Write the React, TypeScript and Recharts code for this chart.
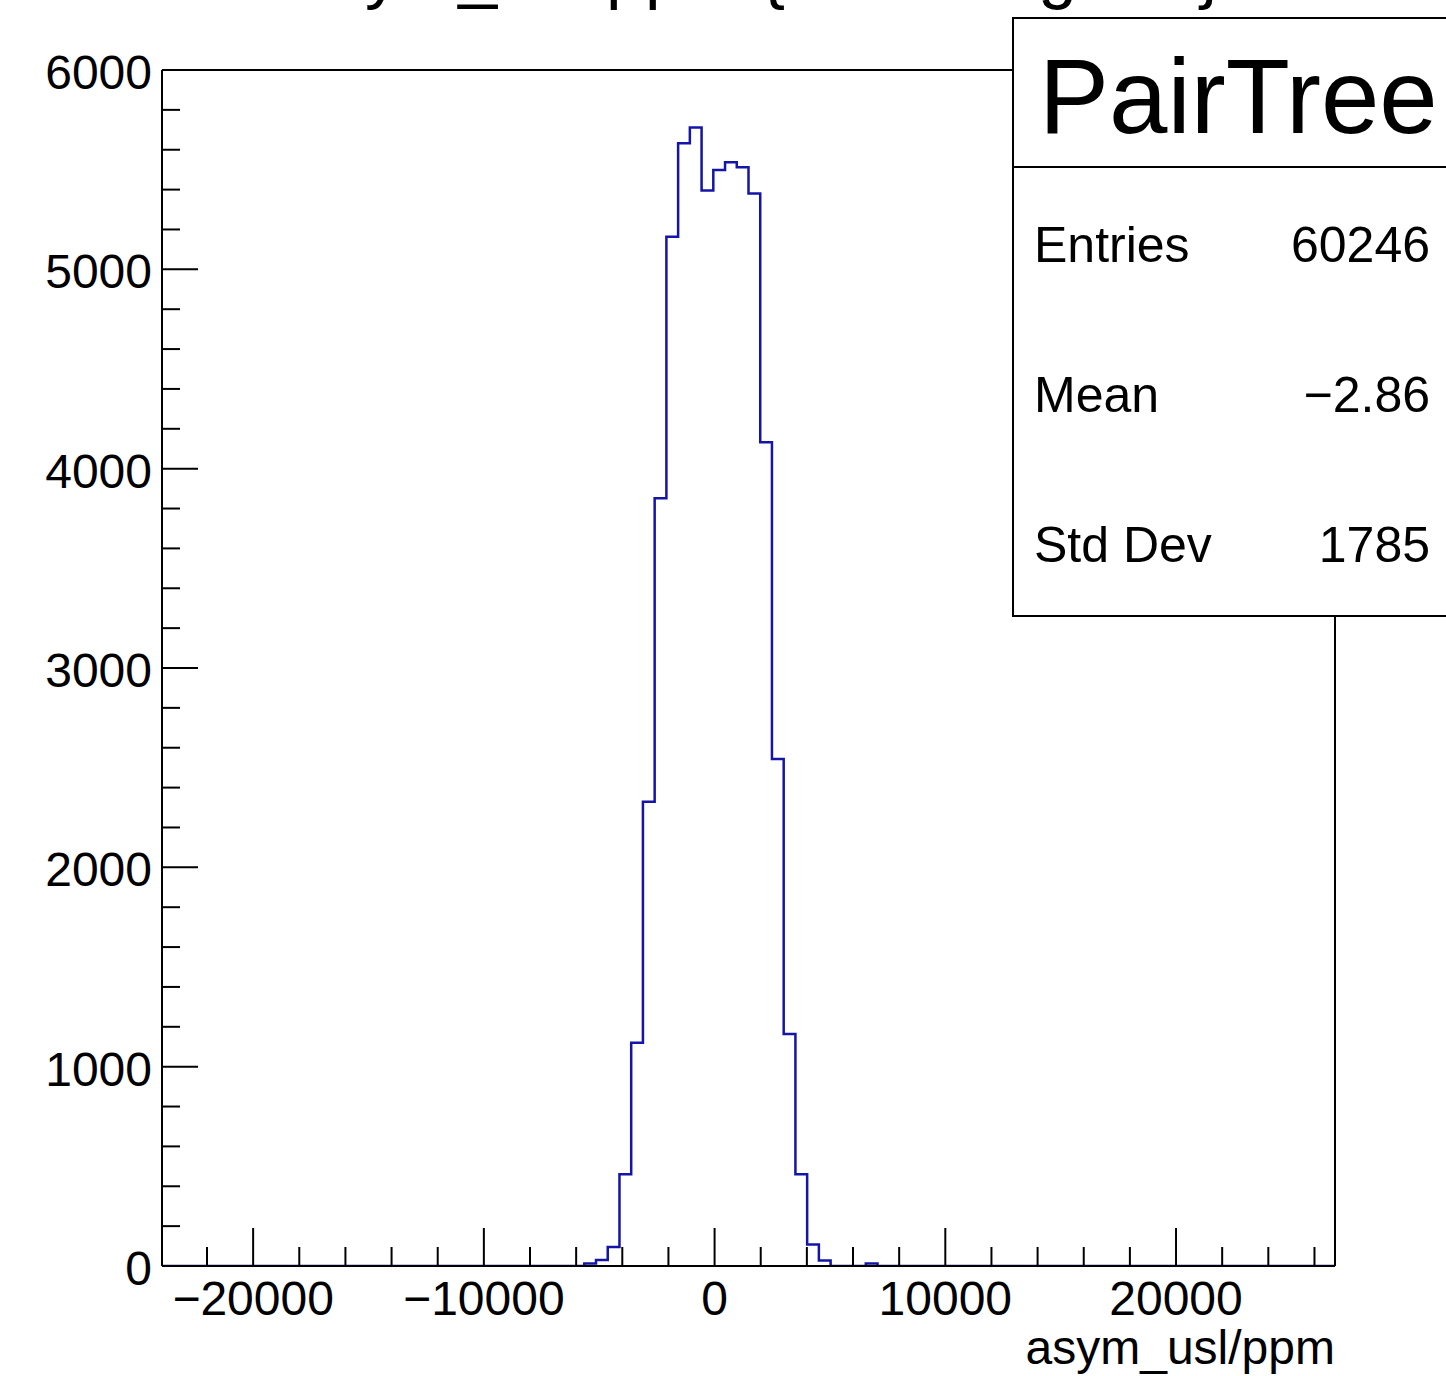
import React from 'react';
import { ComposedChart, Line, XAxis, YAxis, ReferenceLine } from 'recharts';

const W = 1446;
const H = 1376;

// histogram binning (read from the frame: 100 bins)
const X_MIN = -23950;
const X_MAX = 26890;
const N_BINS = 100;
const Y_MAX = 6000;

// counts of the filled bins, starting at bin index FIRST_BIN
const FIRST_BIN = 36;
const binCounts = [
  12, 30, 95, 460, 1120, 2329, 3851, 5164, 5632, 5712, 5395, 5498, 5537,
  5512, 5381, 4132, 2543, 1164, 460, 108, 28, 0, 0, 0, 12,
];

const xTicks = [
  -22000, -20000, -18000, -16000, -14000, -12000, -10000, -8000, -6000, -4000,
  -2000, 0, 2000, 4000, 6000, 8000, 10000, 12000, 14000, 16000, 18000, 20000,
  22000, 24000, 26000,
];
const yTicks = Array.from({ length: 31 }, (_, i) => i * 200);

const stats = [
  { label: 'Entries', value: '60246' },
  { label: 'Mean', value: '\u22122.86' },
  { label: 'Std Dev', value: '1785' },
];

const FONT = '"Liberation Sans", Arial, Helvetica, sans-serif';

const binWidth = (X_MAX - X_MIN) / N_BINS;
const counts = Array.from({ length: N_BINS }, (_, i) => {
  const j = i - FIRST_BIN;
  return j >= 0 && j < binCounts.length ? binCounts[j] : 0;
});
const histData = [
  ...counts.map((n, i) => ({ x: X_MIN + i * binWidth, n })),
  { x: X_MAX, n: 0 },
];

const fmt = (v: number) => (v < 0 ? '\u2212' + Math.abs(v) : String(v));

const XTick = (props: any) => {
  const { x, y, payload } = props;
  const v = payload.value;
  const major = v % 10000 === 0;
  return (
    <g>
      <line x1={x} x2={x} y1={y} y2={y - (major ? 38 : 19)} stroke="#000" strokeWidth={2} />
      {major && (
        <text x={x} y={y + 49} textAnchor="middle" fontSize={48} fontFamily={FONT} fill="#000">
          {fmt(v)}
        </text>
      )}
    </g>
  );
};

const YTick = (props: any) => {
  const { x, y, payload } = props;
  const v = payload.value;
  const major = v % 1000 === 0;
  return (
    <g>
      <line x1={x} x2={x + (major ? 36 : 18)} y1={y} y2={y} stroke="#000" strokeWidth={2} />
      {major && (
        <text x={x - 10} y={y + 19} textAnchor="end" fontSize={48} fontFamily={FONT} fill="#000">
          {v}
        </text>
      )}
    </g>
  );
};

export default function App() {
  return (
    <div style={{ position: 'absolute', left: 0, top: 0, width: W, height: H, background: '#fff', overflow: 'hidden' }}>
      <ComposedChart
        width={W}
        height={H}
        data={histData}
        margin={{ top: 70, right: 111, bottom: 0, left: 0 }}
      >
        <XAxis
          dataKey="x"
          type="number"
          domain={[X_MIN, X_MAX]}
          ticks={xTicks}
          interval={0}
          tick={<XTick />}
          tickSize={0}
          tickMargin={0}
          tickLine={false}
          axisLine={{ stroke: '#000', strokeWidth: 2 }}
          height={110}
          allowDataOverflow
        />
        <YAxis
          type="number"
          domain={[0, Y_MAX]}
          ticks={yTicks}
          interval={0}
          tick={<YTick />}
          tickSize={0}
          tickMargin={0}
          tickLine={false}
          axisLine={{ stroke: '#000', strokeWidth: 2 }}
          width={162}
          allowDataOverflow
        />
        <Line
          dataKey="n"
          type="stepAfter"
          stroke="#1414a8"
          strokeWidth={2.5}
          dot={false}
          activeDot={false}
          isAnimationActive={false}
        />
        <ReferenceLine y={Y_MAX} stroke="#000" strokeWidth={2} />
        <ReferenceLine x={X_MAX} stroke="#000" strokeWidth={2} />
        <ReferenceLine y={0} stroke="#000" strokeWidth={2} />
      </ComposedChart>
      <svg
        width={W}
        height={H}
        style={{ position: 'absolute', left: 0, top: 0, pointerEvents: 'none' }}
      >
        {/* pad title, mostly above the visible area as in the original */}
        <text x={291} y={-5} fontSize={70} fontFamily={FONT} fill="#000">
          asym_usl/ppm {'{ErrorFlag==0}'}
        </text>
        <text x={1335} y={1364} textAnchor="end" fontSize={48} fontFamily={FONT} fill="#000">
          asym_usl/ppm
        </text>
        <rect x={1013} y={18} width={460} height={598} fill="#fff" stroke="#000" strokeWidth={2} />
        <line x1={1013} x2={W} y1={167} y2={167} stroke="#000" strokeWidth={2} />
        <text x={1039} y={133} fontSize={105} fontFamily={FONT} fill="#000">
          PairTree
        </text>
        {stats.map((s, i) => (
          <g key={s.label}>
            <text x={1034} y={262 + i * 150} fontSize={50} fontFamily={FONT} fill="#000">
              {s.label}
            </text>
            <text x={1430} y={262 + i * 150} textAnchor="end" fontSize={50} fontFamily={FONT} fill="#000">
              {s.value}
            </text>
          </g>
        ))}
      </svg>
    </div>
  );
}
